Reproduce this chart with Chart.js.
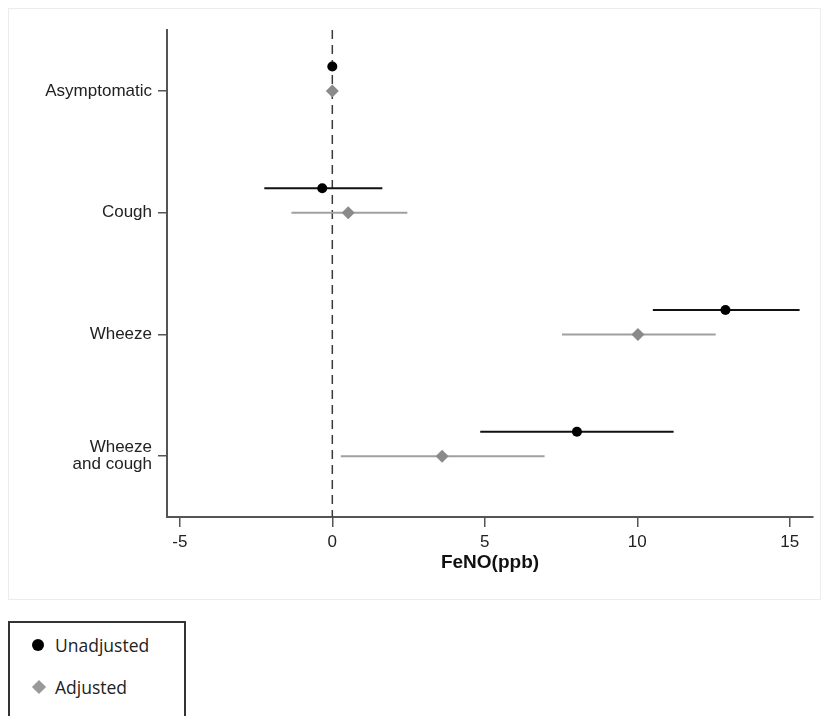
<!DOCTYPE html>
<html>
<head>
<meta charset="utf-8">
<script src="https://cdn.jsdelivr.net/npm/chart.js@4"></script>
<style>
  html, body { margin: 0; padding: 0; background: #fff; width: 823px; height: 716px; overflow: hidden; }
  #frame { position: absolute; left: 8px; top: 8px; width: 811px; height: 590px; border: 1px solid #ececec; }
  #wrap { position: absolute; left: 0; top: 0; width: 823px; height: 600px; }
  #legend { position: absolute; left: 8px; top: 621px; width: 178px; height: 120px; border: 2px solid #333; box-sizing: border-box; font-family: "Open Sans", sans-serif; font-size: 17.5px; color: #222; }
  .item { position: absolute; left: 0; height: 24px; line-height: 24px; }
  .item span.lbl { position: absolute; left: 45px; top: 0; white-space: nowrap; }
  .dot { position: absolute; left: 22px; top: 6px; width: 12px; height: 12px; border-radius: 50%; background: #000; }
  .dia { position: absolute; left: 24px; top: 7px; width: 10px; height: 10px; background: #999; transform: rotate(45deg); }
</style>
</head>
<body>
<div id="frame"></div>
<div id="wrap"><canvas id="c" width="823" height="600"></canvas></div>
<div id="legend">
  <div class="item" style="top:10px"><div class="dot"></div><span class="lbl">Unadjusted</span></div>
  <div class="item" style="top:52px"><div class="dia"></div><span class="lbl">Adjusted</span></div>
</div>
<script>
// ---- data ----
const categories = ['Asymptomatic', 'Cough', 'Wheeze', ['Wheeze', 'and cough']];
const unadjEst = [0, -0.33, 12.89, 8.02];
const unadjLo  = [0, -2.23, 10.51, 4.85];
const unadjHi  = [0,  1.64, 15.32, 11.19];
const adjEst   = [0,  0.52, 10.02, 3.60];
const adjLo    = [0, -1.34,  7.53, 0.28];
const adjHi    = [0,  2.46, 12.57, 6.96];
const xTicks   = [-5, 0, 5, 10, 15];
const seriesNames = ['Unadjusted', 'Adjusted'];

// ---- styles / layout ----
const UNADJ_SHIFT = -0.2;
const BLACK = '#000000';
const GREY_PT = '#8a8a8a';
const GREY_LN = '#a0a0a0';
const AXIS = '#555555';
const FONT = "'Liberation Sans', Arial, sans-serif";

const datasets = [];
// reference line at 0
datasets.push({
  type: 'line', label: 'ref', data: [{x: 0, y: 0.5}, {x: 0, y: 4.5}],
  borderColor: '#3a3a3a', borderWidth: 1.5, borderDash: [9, 6],
  pointRadius: 0, showLine: true, order: 5
});
// CI lines
categories.forEach((c, i) => {
  const yu = i + 1 + UNADJ_SHIFT, ya = i + 1;
  if (unadjHi[i] !== unadjLo[i]) datasets.push({
    type: 'line', label: 'ciU' + i, data: [{x: unadjLo[i], y: yu}, {x: unadjHi[i], y: yu}],
    borderColor: '#111', borderWidth: 2, pointRadius: 0, showLine: true, order: 3
  });
  if (adjHi[i] !== adjLo[i]) datasets.push({
    type: 'line', label: 'ciA' + i, data: [{x: adjLo[i], y: ya}, {x: adjHi[i], y: ya}],
    borderColor: GREY_LN, borderWidth: 2, pointRadius: 0, showLine: true, order: 3
  });
});
// points
datasets.push({
  type: 'scatter', label: seriesNames[0],
  data: unadjEst.map((v, i) => ({x: v, y: i + 1 + UNADJ_SHIFT})),
  backgroundColor: BLACK, borderColor: BLACK, pointStyle: 'circle', pointRadius: 5, borderWidth: 0, order: 0
});
datasets.push({
  type: 'scatter', label: seriesNames[1],
  data: adjEst.map((v, i) => ({x: v, y: i + 1})),
  backgroundColor: GREY_PT, borderColor: GREY_PT, pointStyle: 'rectRot', pointRadius: 6.5, borderWidth: 0, order: 1
});

new Chart(document.getElementById('c'), {
  type: 'scatter',
  data: { datasets },
  options: {
    responsive: false,
    animation: false,
    layout: { padding: { left: 0, top: 30, right: 10, bottom: 0 } },
    plugins: { legend: { display: false }, tooltip: { enabled: false } },
    scales: {
      x: {
        type: 'linear', min: -5.42, max: 15.76,
        afterBuildTicks: s => { s.ticks = xTicks.map(v => ({value: v})); },
        afterFit: s => { s.height = 83; },
        grid: { drawOnChartArea: false, drawTicks: true, tickLength: 10, color: AXIS, lineWidth: 1.5 },
        border: { display: true, color: AXIS, width: 2 },
        ticks: { color: '#222', padding: 5, font: { family: FONT, size: 17 } },
        title: { display: true, text: 'FeNO(ppb)', color: '#111', font: { family: FONT, size: 19, weight: 'bold' }, padding: { top: 0, bottom: 26 } }
      },
      y: {
        type: 'linear', min: 0.5, max: 4.5, reverse: true,
        afterBuildTicks: s => { s.ticks = categories.map((c, i) => ({value: i + 1})); },
        afterFit: s => { s.width = 167; },
        grid: { drawOnChartArea: false, drawTicks: true, tickLength: 9, color: AXIS, lineWidth: 1.5 },
        border: { display: true, color: AXIS, width: 2 },
        ticks: {
          color: '#222', padding: 6, font: { family: FONT, size: 17, lineHeight: 1.0 },
          callback: v => categories[Math.round(v) - 1]
        }
      }
    }
  }
});
</script>
</body>
</html>
